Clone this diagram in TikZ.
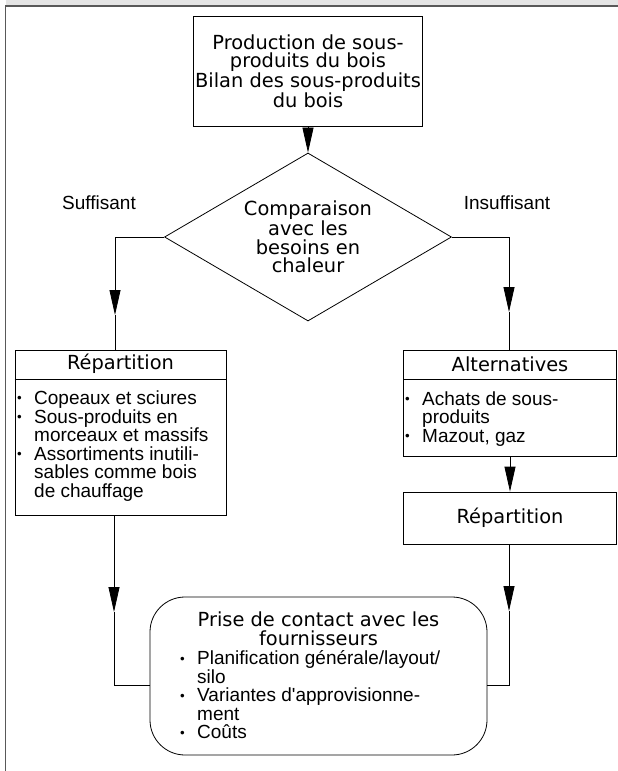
\documentclass[tikz,border=0pt]{standalone}
\usepackage{fontspec}
\setmainfont{Liberation Sans}
\newfontfamily\ttlfont{DejaVu Sans}
\usetikzlibrary{arrows.meta,shapes.geometric}

\newcommand{\itemdot}{\makebox[17pt][l]{\raisebox{0.1em}{\scalebox{0.7}{\textbullet}}}}
\newcommand{\itemgap}{\hspace*{17pt}}

\tikzset{
  box/.style={draw, line width=0.8pt, inner sep=0pt},
  ttl/.style={font=\ttlfont\fontsize{19.4}{18.5}\selectfont, align=center, inner sep=0pt},
  itm/.style={font=\fontsize{19}{18.5}\selectfont, align=left, inner sep=0pt, anchor=west},
  lbl/.style={font=\fontsize{19}{18.5}\selectfont, inner sep=0pt},
  flow/.style={-{Triangle[length=25pt,width=11pt]}, line width=0.8pt},
  link/.style={line width=0.8pt},
}

\begin{document}
\begin{tikzpicture}[x=1pt,y=-1pt]
  \useasboundingbox (0,0) rectangle (618,771);
  % page frame
  \fill[black!10] (6,0) rectangle (618,6);
  \draw[line width=1.6pt, black!65] (5.5,771) -- (5.5,6) -- (618,6);

  % top box and decision
  \node[box, ttl, minimum width=229pt, minimum height=110pt] (prod) at (308,71)
    {Production de sous-\\produits du bois\\Bilan des sous-produits\\du bois};
  \node[box, ttl, shape=diamond, aspect=1.7, minimum width=287pt, minimum height=168pt] (cmp) at (308,237)
    {Comparaison\\avec les\\besoins en\\chaleur};
  \draw[flow] (prod) -- (cmp);
  \node[lbl] (suff) at (99,203) {Suffisant};
  \node[lbl] (insuff) at (507,203) {Insuffisant};

  % left column
  \node[box, minimum width=211pt, minimum height=165.7pt] (repL) at (120.5,432.85) {};
  \draw[link] (repL.north west) ++(0,29.3) -- ++(211,0);
  \node[ttl] (repLt) at (120.5,364) {Répartition};
  \node[itm] (repLi) at (17,446) {\itemdot Copeaux et sciures\\
    \itemdot Sous-produits en\\
    \itemgap morceaux et massifs\\
    \itemdot Assortiments inutili-\\
    \itemgap sables comme bois\\
    \itemgap de chauffage};

  % right column
  \node[box, minimum width=212.7pt, minimum height=106pt] (alt) at (510,403) {};
  \draw[link] (alt.north west) ++(0,29.3) -- ++(212.7,0);
  \node[ttl] (altt) at (510,364) {Alternatives};
  \node[itm] (alti) at (405,419) {\itemdot Achats de sous-\\
    \itemgap produits\\
    \itemdot Mazout, gaz};
  \node[box, ttl, minimum width=212.7pt, minimum height=52pt] (repR) at (510,518) {Répartition};
  \draw[flow] (alt) -- (repR);

  % suppliers
  \node[box, rounded corners=35pt, minimum width=337pt, minimum height=158pt] (contact) at (318.5,676) {};
  \node[ttl] (contactt) at (318.5,629) {Prise de contact avec les\\fournisseurs};
  \node[itm] (contacti) at (180,695) {\itemdot Planification générale/layout/\\
    \itemgap silo\\
    \itemdot Variantes d\textquotesingle approvisionne-\\
    \itemgap ment\\
    \itemdot Coûts};

  % branches
  \coordinate (tipL) at (115,315);
  \coordinate (tipR) at (509,312);
  \draw[flow] (cmp.west) -| (tipL);
  \draw[link] (tipL) -- (tipL |- repL.north);
  \draw[flow] (cmp.east) -| (tipR);
  \draw[link] (tipR) -- (tipR |- alt.north);

  \coordinate (tipLL) at (114,612);
  \coordinate (joinL) at (114,685);
  \draw[flow] (tipLL |- repL.south) -- (tipLL);
  \draw[link] (tipLL) -- (joinL) -- (joinL -| contact.west);
  \coordinate (tipRR) at (509,611);
  \coordinate (joinR) at (509,685);
  \draw[flow] (tipRR |- repR.south) -- (tipRR);
  \draw[link] (tipRR) -- (joinR) -- (joinR -| contact.east);
\end{tikzpicture}
\end{document}
